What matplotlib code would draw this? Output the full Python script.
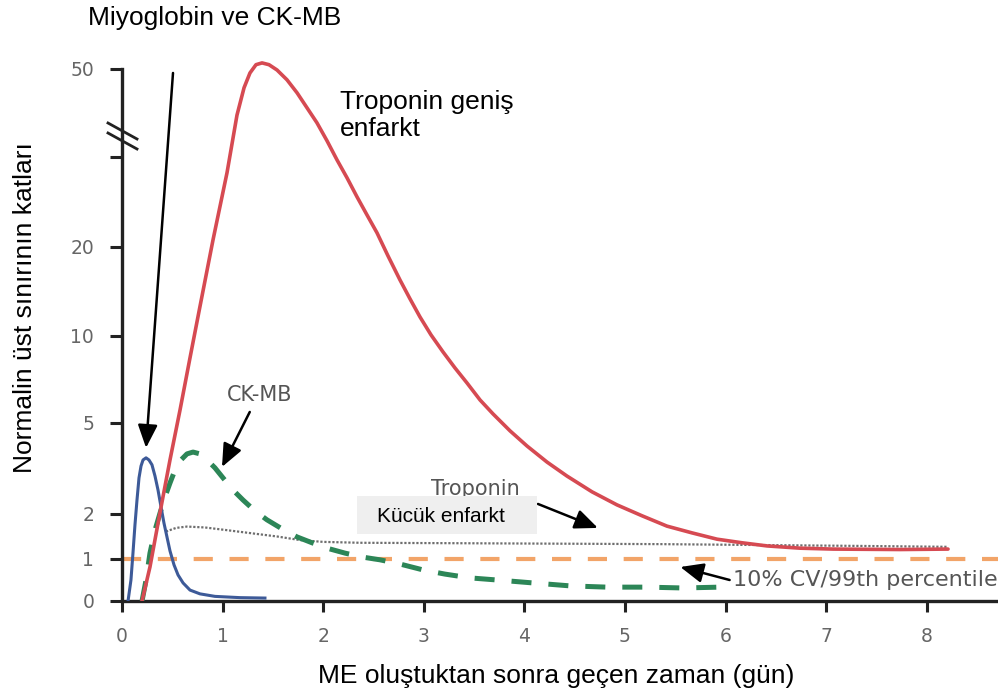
import numpy as np
import matplotlib
matplotlib.use("Agg")
import matplotlib.pyplot as plt
from matplotlib.lines import Line2D
from matplotlib.patches import Rectangle

# ── Data: days after MI vs. multiples of the upper reference limit ────────────
myo_x = [0.06, 0.089, 0.109, 0.129, 0.149, 0.169, 0.189, 0.209, 0.239, 0.268, 0.298,
         0.328, 0.358, 0.388, 0.417, 0.447, 0.477, 0.517, 0.557, 0.607, 0.676, 0.775,
         0.924, 1.173, 1.421]
myo_y = [0.0, 0.5, 1.13, 1.76, 2.46, 3.19, 3.58, 3.78, 3.85, 3.78, 3.62,
         3.25, 2.79, 2.23, 1.8, 1.49, 1.18, 0.86, 0.62, 0.43, 0.26, 0.17,
         0.11, 0.08, 0.07]

ckmb_x = [0.199, 0.239, 0.278, 0.328, 0.378, 0.427, 0.477, 0.527, 0.586, 0.646, 0.706,
          0.775, 0.845, 0.924, 1.004, 1.103, 1.203, 1.322, 1.441, 1.59, 1.74, 1.889,
          2.038, 2.217, 2.396, 2.565, 2.763, 2.992, 3.211, 3.459, 3.728, 4.085, 4.453,
          4.821, 5.219, 5.577, 5.944]
ckmb_y = [0.0, 0.5, 1.13, 1.64, 2.03, 2.56, 3.02, 3.45, 3.78, 3.98, 4.04,
          3.98, 3.78, 3.52, 3.19, 2.79, 2.46, 2.1, 1.87, 1.67, 1.49, 1.36,
          1.24, 1.13, 1.04, 0.98, 0.88, 0.74, 0.64, 0.55, 0.5, 0.43, 0.36,
          0.33, 0.33, 0.31, 0.33]

tn_large_x = [0.199, 0.278, 0.378, 0.477, 0.577, 0.676, 0.775, 0.905, 1.044, 1.143, 1.213,
              1.272, 1.332, 1.392, 1.461, 1.541, 1.64, 1.74, 1.839, 1.938, 2.038, 2.137,
              2.237, 2.336, 2.435, 2.535, 2.644, 2.763, 2.863, 2.962, 3.072, 3.191, 3.31,
              3.429, 3.559, 3.688, 3.857, 4.026, 4.225, 4.423, 4.672, 4.92, 5.169, 5.417,
              5.666, 5.915, 6.163, 6.412, 6.74, 7.068, 7.734, 8.211]
tn_large_y = [0.0, 0.81, 2.05, 3.78, 5.75, 8.74, 13.3, 21.2, 32.5, 42.2, 46.8,
              49.3, 50.7, 51.0, 50.7, 49.8, 48.15, 45.96, 43.43, 40.9, 37.87, 34.66,
              31.63, 28.43, 25.39, 22.36, 18.99, 16.29, 14.16, 12.13, 10.11, 9.08, 8.16,
              7.3, 6.32, 5.52, 4.74, 4.24, 3.71, 3.25, 2.73, 2.3, 1.96, 1.73,
              1.58, 1.44, 1.36, 1.29, 1.24, 1.22, 1.21, 1.22]

tn_small_x = [0.437, 0.537, 0.646, 0.825, 1.044, 1.292, 1.541, 1.769, 1.998, 2.366, 3.36,
              4.354, 5.348, 6.342, 7.336, 8.211]
tn_small_y = [1.61, 1.69, 1.72, 1.7, 1.64, 1.57, 1.5, 1.42, 1.38, 1.36, 1.35,
              1.34, 1.33, 1.31, 1.29, 1.27]

cutoff_y = 1.0   # 10% CV / 99th percentile

x_ticks = [0, 1, 2, 3, 4, 5, 6, 7, 8]
y_ticks = [0, 1, 2, 5, 10, 20, 50]
y_break_tick = 35.2

# ── Broken, non-uniform y axis (piecewise linear between ticks) ───────────────
Y_KNOT_VALS = [-1, 0, 1, 2, 5, 10, 20, 50, 60]
Y_KNOT_POS = [-42, 0, 42, 87, 178, 265, 354, 532, 591]


def y_fwd(v):
    return np.interp(v, Y_KNOT_VALS, Y_KNOT_POS)


def y_inv(p):
    return np.interp(p, Y_KNOT_POS, Y_KNOT_VALS)


W, H = 998, 693


def fx(px):
    return px / W


def fy(py):
    return 1 - py / H


SANS = ["Liberation Sans", "DejaVu Sans"]
AXIS_COL = "#222222"
GRAY_TXT = "#555555"

fig = plt.figure(figsize=(W / 100, H / 100), dpi=100)
ax = fig.add_axes([fx(122), fy(601), fx(998 - 122), (601 - 33.4) / H])
ax.set_yscale("function", functions=(y_fwd, y_inv))
ax.set_ylim(0, 56)
ax.set_xlim(0, 876 / 100.6)

ax.axhline(cutoff_y, color="#f2a468", lw=3.0, dashes=(4.6, 4.0), zorder=2)
ax.plot(tn_small_x, tn_small_y, color="#6e6e6e", lw=1.6, ls=(0, (1, 0.8)), zorder=3)
ax.plot(ckmb_x, ckmb_y, color="#2c8657", lw=3.6, dashes=(4.0, 3.4), zorder=4)
ax.plot(myo_x, myo_y, color="#3d5a98", lw=2.2, zorder=5, solid_joinstyle="round")
ax.plot(tn_large_x, tn_large_y, color="#d64a52", lw=2.6, zorder=6,
        solid_capstyle="round", solid_joinstyle="round")

for side in ("top", "right"):
    ax.spines[side].set_visible(False)
for side in ("left", "bottom"):
    ax.spines[side].set_linewidth(2.4)
    ax.spines[side].set_color(AXIS_COL)
ax.spines["left"].set_bounds(0, 50)

ax.set_xticks(x_ticks)
ax.set_xticks([], minor=True)
ax.set_yticks(y_ticks)
ax.set_yticks([y_break_tick], minor=True)
ax.set_yticklabels([str(v) for v in y_ticks])
ax.tick_params(axis="both", which="both", direction="out", color=AXIS_COL,
               width=2.2, labelsize=13.5, labelcolor="#666666")
ax.tick_params(axis="y", which="both", length=9, pad=11)
ax.tick_params(axis="x", length=8, pad=11)

# axis break marks
for y0 in (123, 133):
    fig.add_artist(Line2D([fx(108), fx(137)], [fy(y0), fy(y0 + 16)],
                          color=AXIS_COL, lw=2.0))

# original gray labels
ax.text(1.37, 6.6, "CK-MB", ha="center", va="center", fontsize=15, color=GRAY_TXT)
ax.text(3.51, 2.82, "Troponin", ha="center", va="center", fontsize=15, color=GRAY_TXT)
ax.text(6.07, 0.5, "10% CV/99th percentile", ha="left", va="center", fontsize=16,
        color=GRAY_TXT, clip_on=False)

arrow = dict(arrowstyle="-|>,head_length=0.7,head_width=0.3", mutation_scale=20,
             color="black", lw=1.8, shrinkA=0, shrinkB=0)
ax.annotate("", xy=(0.239, 4.18), xytext=(0.507, 49.3), arrowprops=arrow, zorder=8)
ax.annotate("", xy=(0.994, 3.55), xytext=(1.27, 5.63), arrowprops=arrow, zorder=8)
ax.annotate("", xy=(4.73, 1.69), xytext=(4.135, 2.33), arrowprops=arrow, zorder=8)
ax.annotate("", xy=(5.55, 0.81), xytext=(6.04, 0.5), arrowprops=arrow, zorder=8)

# Turkish overlay labels
fig.text(fx(88), fy(25), "Miyoglobin ve CK-MB", fontsize=19, family=SANS, va="baseline")
fig.text(fx(340), fy(90), "Troponin geniş\nenfarkt", fontsize=19, family=SANS,
         va="top", ha="left", linespacing=1.15)
fig.add_artist(Rectangle((fx(357), fy(534)), fx(180), 38 / H, transform=fig.transFigure,
                         facecolor="#efefef", edgecolor="none", zorder=5))
fig.text(fx(377), fy(516), "Kücük enfarkt", fontsize=15, family=SANS, va="center",
         ha="left", zorder=6)
fig.text(fx(556), fy(683), "ME oluştuktan sonra geçen zaman (gün)", fontsize=19,
         family=SANS, ha="center", va="baseline")
fig.text(fx(25), fy(308), "Normalin üst sınırının katları", fontsize=19, family=SANS,
         rotation=90, ha="center", va="center")

fig.savefig("out.png", dpi=100)
